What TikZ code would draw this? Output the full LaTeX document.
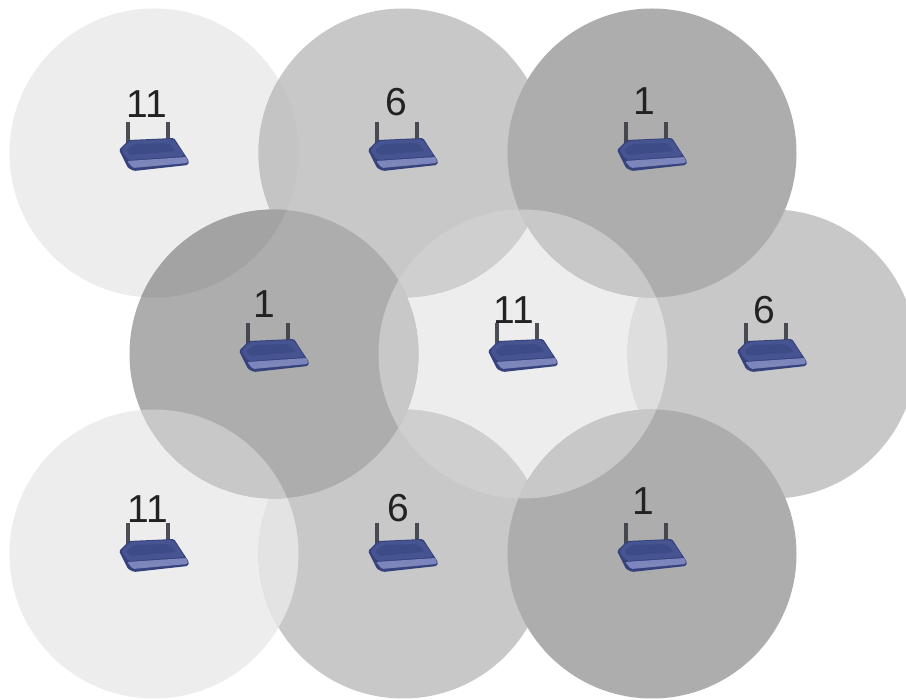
\documentclass[tikz,border=0pt]{standalone}
\usepackage{fontspec}
\setmainfont{Liberation Sans}
\definecolor{cLight}{HTML}{EDEDED}
\definecolor{cMid}{HTML}{C8C8C8}
\definecolor{cDark}{HTML}{ADADAD}
\definecolor{rTop}{HTML}{465592}
\definecolor{rFront}{HTML}{7C86BC}
\definecolor{rBase}{HTML}{36427C}
\definecolor{rAnt}{HTML}{3A3D45}
\definecolor{txt}{HTML}{222222}
\newcommand{\lensfill}[3]{\begin{scope}\clip (#1) circle[radius=144.5];\fill[#3] (#2) circle[radius=144.5];\end{scope}}
\tikzset{
  x=1pt,y=-1pt,
  cell/.style={circle,minimum size=289pt,inner sep=0pt,outer sep=0pt,draw=none},
  chan/.style={font=\fontsize{39}{39}\selectfont,text=txt,inner sep=0pt},
  router/.pic={
    \draw[rAnt,line width=3.4pt,opacity=.9] (-26,-31) -- (-26,-9);
    \draw[rAnt,line width=3.4pt,opacity=.9] (14,-31) -- (14,-12);
    \fill[rBase,rounded corners=1.5pt] (-35,-3) -- (-25,-13) -- (20,-15) -- (35,8) -- (34,12) -- (-20,18) -- (-26,15) -- cycle;
    \fill[rFront,rounded corners=1.5pt] (-27,8) -- (33,4) -- (34,10) -- (-21,15) -- cycle;
    \fill[rTop,rounded corners=3pt] (-33,-3) -- (-24,-12) -- (19,-14) -- (31,3) -- (-26,7) -- cycle;
    \fill[rBase,opacity=.5,rounded corners=2pt] (-28,-3) -- (-20,-9) -- (14,-10) -- (22,-2) -- (-24,2) -- cycle;
    \draw[rBase!60!white,line width=.6pt] (-14,12) -- (12,10);
  },
}
\begin{document}
\begin{tikzpicture}
\useasboundingbox (0,0) rectangle (906,700);
\fill[white] (0,0) rectangle (906,700);
% coverage cells: light, then mid, with their overlaps
\node[cell,fill=cLight] (A) at (154,153) {};
\node[cell,fill=cLight] (E) at (523,354) {};
\node[cell,fill=cLight] (G) at (154,554) {};
\node[cell,fill=cMid]   (B) at (403,153) {};
\node[cell,fill=cMid]   (F) at (772,354) {};
\node[cell,fill=cMid]   (H) at (403,554) {};
\lensfill{A}{B}{black!23}
\lensfill{G}{H}{black!11}
\lensfill{B}{E}{black!19}
\lensfill{E}{H}{black!19}
\lensfill{E}{F}{black!13}
% dark cells lie over the mid ones
\node[cell,fill=cDark]  (C) at (652,153) {};
\node[cell,fill=cDark]  (D) at (274,354) {};
\node[cell,fill=cDark]  (I) at (652,554) {};
\lensfill{A}{D}{black!36}
\lensfill{D}{E}{cMid}
\lensfill{D}{G}{cMid}
\lensfill{C}{E}{cMid}
\lensfill{E}{I}{cMid}
% routers
\path (154,153) pic {router};
\path (403,153) pic {router};
\path (652,153) pic {router};
\path (274,354) pic {router};
\path (523,354) pic {router};
\path (772,354) pic {router};
\path (154,554) pic {router};
\path (403,554) pic {router};
\path (652,554) pic {router};
% channel labels
\node[chan] (la) at (147,104) {11};
\node[chan] (lb) at (396,102) {6};
\node[chan] (lc) at (644,101) {1};
\node[chan] (ld) at (264,304) {1};
\node[chan] (le) at (514,310) {11};
\node[chan] (lf) at (764,310) {6};
\node[chan] (lg) at (148,509) {11};
\node[chan] (lh) at (398,508) {6};
\node[chan] (li) at (643,501) {1};
\end{tikzpicture}
\end{document}
